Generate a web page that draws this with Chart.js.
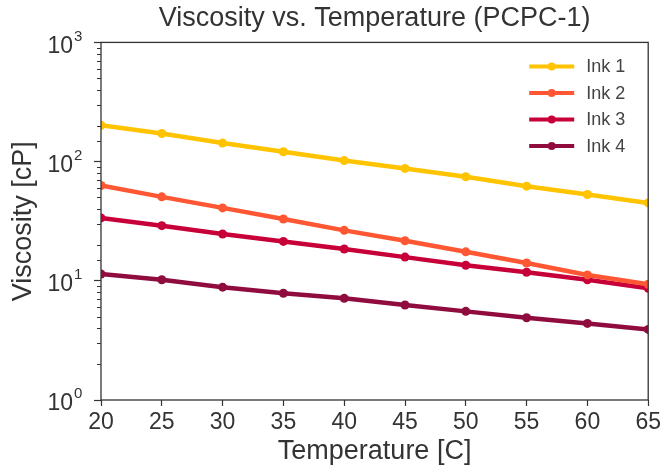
<!DOCTYPE html>
<html>
<head>
<meta charset="utf-8">
<script src="https://cdn.jsdelivr.net/npm/chart.js@4"></script>
<style>
  html, body { margin: 0; padding: 0; background: #fff; }
  #wrap { width: 664px; height: 468px; }
</style>
</head>
<body>
<div id="wrap"><canvas id="chartVisc"></canvas></div>
<script>
// data
let temps = [20, 25, 30, 35, 40, 45, 50, 55, 60, 65];
let ink1 = [202, 172, 143, 121, 102, 87.7, 74.6, 62.2, 53, 45];
let ink2 = [63, 50.6, 40.9, 33, 26.5, 21.7, 17.5, 14.1, 11.2, 9.36];
let ink3 = [33.7, 29, 24.7, 21.4, 18.5, 15.8, 13.5, 11.8, 10.2, 8.66];
let ink4 = [11.4, 10.2, 8.84, 7.87, 7.13, 6.26, 5.54, 4.9, 4.39, 3.91];
let inkNames = ['Ink 1', 'Ink 2', 'Ink 3', 'Ink 4'];
let inkColors = ['#FFC300', '#FF5733', '#C70039', '#900C3F'];
let xTicks = [20, 25, 30, 35, 40, 45, 50, 55, 60, 65];
let yDecades = [1, 10, 100, 1000];

const FONT = "'Liberation Sans', Arial, sans-serif";
const INK = '#333333';

function isPow10(v) {
    let l = Math.log10(v);
    return Math.abs(l - Math.round(l)) < 1e-9;
}

let series = [ink1, ink2, ink3, ink4];
let datasets = series.map(function(vals, i){
    return {
        label: inkNames[i],
        data: vals.map(function(v, j){ return { x: temps[j], y: v }; }),
        borderColor: inkColors[i],
        backgroundColor: inkColors[i],
        borderWidth: 4.5,
        pointRadius: 4.5,
        pointHoverRadius: 4.5,
        pointBorderWidth: 0,
        tension: 0
    };
});

// frame, minor ticks, 10^n labels and the in-plot legend
const extras = {
    id: 'extras',
    afterDraw(chart) {
        const ctx = chart.ctx;
        const a = chart.chartArea;
        const y = chart.scales.y;
        ctx.save();
        ctx.strokeStyle = INK;
        ctx.lineWidth = 1.3;
        ctx.strokeRect(a.left, a.top, a.right - a.left, a.bottom - a.top);
        // minor log ticks
        ctx.lineWidth = 1;
        y.ticks.forEach(function(t){
            if (isPow10(t.value)) return;
            let py = Math.round(y.getPixelForValue(t.value)) + 0.5;
            ctx.beginPath();
            ctx.moveTo(a.left - 4, py);
            ctx.lineTo(a.left, py);
            ctx.stroke();
        });
        // decade labels with raised exponent
        ctx.fillStyle = INK;
        ctx.textBaseline = 'middle';
        yDecades.forEach(function(v){
            let py = y.getPixelForValue(v);
            ctx.font = '23px ' + FONT;
            ctx.textAlign = 'right';
            ctx.fillText('10', a.left - 28, py + 4);
            ctx.font = '15px ' + FONT;
            ctx.textAlign = 'left';
            ctx.fillText(String(Math.round(Math.log10(v))), a.left - 27, py - 6);
        });
        // legend
        ctx.font = '18px ' + FONT;
        ctx.textAlign = 'left';
        chart.data.datasets.forEach(function(ds, i){
            let ly = a.top + 24 + i * 26.5;
            let lx = a.right - 119;
            ctx.strokeStyle = ds.borderColor;
            ctx.lineWidth = 4;
            ctx.beginPath();
            ctx.moveTo(lx, ly);
            ctx.lineTo(lx + 45, ly);
            ctx.stroke();
            ctx.fillStyle = ds.borderColor;
            ctx.beginPath();
            ctx.arc(lx + 22.5, ly, 4, 0, Math.PI * 2);
            ctx.fill();
            ctx.fillStyle = '#444';
            ctx.fillText(ds.label, lx + 57, ly + 1);
        });
        ctx.restore();
    }
};

let chart = new Chart(document.getElementById('chartVisc'), {
    type: 'line',
    data: { datasets: datasets },
    plugins: [extras],
    options: {
        responsive: true,
        maintainAspectRatio: false,
        animation: false,
        layout: { padding: { left: 0, right: 12, top: 0, bottom: 0 } },
        plugins: {
            legend: { display: false },
            tooltip: { enabled: false },
            title: {
                display: true,
                text: 'Viscosity vs. Temperature (PCPC-1)',
                color: INK,
                fullSize: false,
                font: { family: FONT, size: 27, weight: 'normal' },
                padding: { top: 2, bottom: 8 }
            }
        },
        scales: {
            x: {
                type: 'linear',
                min: 20,
                max: 65,
                afterBuildTicks: function(scale){
                    scale.ticks = xTicks.map(function(v){ return { value: v }; });
                },
                afterFit: function(scale){ scale.height = 68; },
                border: { display: false },
                grid: { drawOnChartArea: false, tickLength: 6, color: INK, tickWidth: 1.2 },
                ticks: {
                    color: INK,
                    padding: 3,
                    maxRotation: 0,
                    font: { family: FONT, size: 23 }
                },
                title: {
                    display: true,
                    text: 'Temperature [C]',
                    color: INK,
                    font: { family: FONT, size: 27 },
                    padding: { top: 0, bottom: 0 }
                }
            },
            y: {
                type: 'logarithmic',
                min: 1,
                max: 1000,
                afterFit: function(scale){ scale.width = 101; },
                border: { display: false },
                grid: {
                    drawOnChartArea: false,
                    tickLength: 7,
                    tickWidth: 1.2,
                    tickColor: function(c){ return (c.tick && isPow10(c.tick.value)) ? INK : 'rgba(0,0,0,0)'; }
                },
                ticks: { display: false, autoSkip: false },
                title: {
                    display: true,
                    text: 'Viscosity [cP]',
                    color: INK,
                    font: { family: FONT, size: 27 },
                    padding: { top: 7, bottom: 0 }
                }
            }
        }
    }
});
</script>
</body>
</html>
